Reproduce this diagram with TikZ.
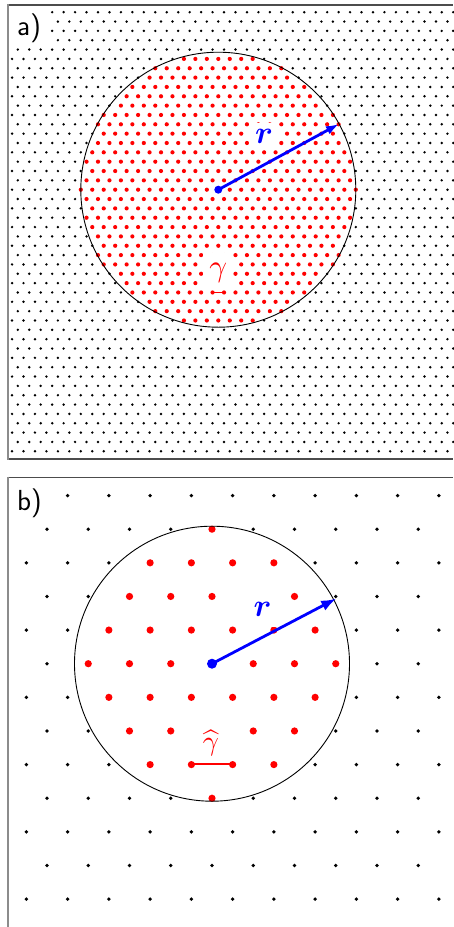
\documentclass[tikz,border=0pt]{standalone}
\usepackage{amsmath,bm}
\usepackage{fontspec}
\usetikzlibrary{arrows.meta}
\begin{document}
\begin{tikzpicture}[x=1pt,y=-1pt,
  topline/.style={draw=black!70,line width=1.4pt},
  sideline/.style={draw=black!45,line width=1.8pt},
  blackdotA/.style={fill=black},
  reddotA/.style={fill=red},
  rim/.style={draw=black,line width=0.9pt},
  radarrow/.style={draw=blue,line width=2.8pt,-{Latex[length=13pt,width=9pt]}},
  bluedot/.style={fill=blue},
  panellabel/.style={font=\fontsize{29}{30}\selectfont\sffamily,fill=white,inner xsep=7pt,inner ysep=8pt,text depth=0pt,anchor=base west},
  rlabel/.style={font=\normalsize,scale=3.2,text=blue,fill=white,anchor=base},
  glabel/.style={font=\normalsize,text=red,fill=white,anchor=base},
  bond/.style={draw=red}
]
\useasboundingbox (0,0) rectangle (453,927);

% ---------------- panel a ----------------
\foreach \j in {-19,...,28}{
  \foreach \i in {-19,...,21}{
    \pgfmathsetmacro\u{\i+0.5*mod(abs(\j),2)}
    \pgfmathsetmacro\px{218.3+11.458*\u}
    \pgfmathsetmacro\py{189.7+9.342*\j}
    \pgfmathtruncatemacro\ok{and(\px>9,\px<454)}
    \pgfmathtruncatemacro\inr{((\u/12)^2+(\j*0.8153/12)^2)<=1.0005}
    \ifnum\ok=1
      \ifnum\inr=1
        \fill[reddotA] (\px,\py) circle[radius=2.1pt];
      \else
        \fill[blackdotA] (\px,\py) circle[radius=1.35pt];
      \fi
    \fi
  }
}
\coordinate (ca) at (218.3,189.7);
\coordinate (ea) at (339.0,124.0);
\draw[rim] (ca) circle[radius=137.5pt];
\draw[topline] (8.3,5) -- (453,5);
\draw[topline] (8.3,459) -- (453,459);
\draw[sideline] (8.3,4.3) -- (8.3,459.7);
\node[panellabel] (la) at (10,35.8) {a)};
\node[rlabel,inner sep=1.875pt] (ra) at (264,143) {$\bm{r}$};
\node[glabel,scale=3.1,text height=6.77pt,text depth=2.58pt,inner sep=0.97pt,minimum width=9.68pt] (ga) at (218.3,276.6) {$\gamma$};
\coordinate (g1) at (212.57,292.5);
\coordinate (g2) at (224.03,292.5);
\draw[bond,line width=1.3pt] (g1) -- (g2);
\draw[radarrow] (ca) -- (ea);
\fill[bluedot] (ca) circle[radius=4pt];

% ---------------- panel b ----------------
\foreach \j in {-5,...,7}{
  \foreach \i in {-5,...,6}{
    \pgfmathsetmacro\u{\i+0.5*mod(abs(\j),2)}
    \pgfmathsetmacro\px{212+41.25*\u}
    \pgfmathsetmacro\py{663.7+33.63*\j}
    \pgfmathtruncatemacro\ok{and(\px>9,\px<454)}
    \pgfmathtruncatemacro\inr{((\u*0.3)^2+(\j*0.8153*0.3)^2)<=1.0005}
    \ifnum\ok=1
      \ifnum\inr=1
        \fill[reddotA] (\px,\py) circle[radius=3.6pt];
      \else
        \fill[blackdotA] (\px,\py) circle[radius=1.9pt];
      \fi
    \fi
  }
}
\coordinate (cb) at (212,663.7);
\coordinate (eb) at (336.2,598.6);
\draw[rim] (cb) circle[radius=137.5pt];
\draw[topline] (8.3,477.3) -- (453,477.3);
\draw[sideline] (8.3,476.6) -- (8.3,927);
\node[panellabel] (lb) at (10,510.7) {b)};
\node[rlabel,inner sep=3.125pt] (rb) at (262.5,616.7) {$\bm{r}$};
\node[glabel,scale=2.8,inner sep=1.07pt] (gb) at (211,750.3) {$\widehat{\gamma}$};
\coordinate (h1) at (191.375,764.335);
\coordinate (h2) at (232.625,764.335);
\draw[bond,line width=2pt] (h1) -- (h2);
\draw[radarrow,-{Latex[length=15pt,width=11pt]}] (cb) -- (eb);
\fill[bluedot] (cb) circle[radius=5pt];
\end{tikzpicture}
\end{document}
